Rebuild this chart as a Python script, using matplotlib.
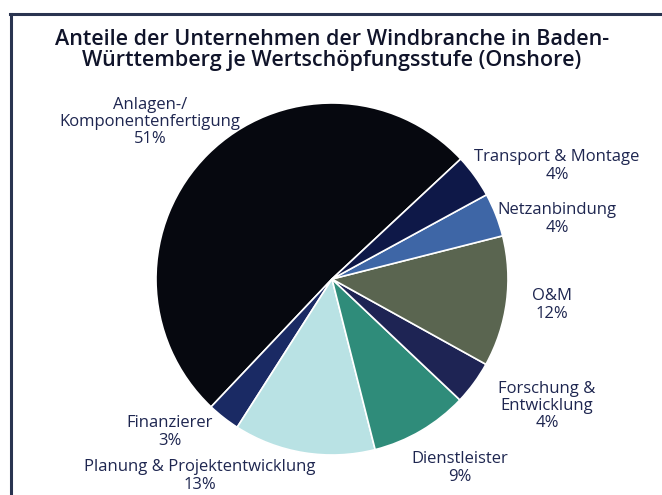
import matplotlib
matplotlib.use("Agg")
import matplotlib.pyplot as plt
from matplotlib.lines import Line2D

title = "Anteile der Unternehmen der Windbranche in Baden-\nWürttemberg je Wertschöpfungsstufe (Onshore)"
categories = ["Anlagen-/\nKomponentenfertigung", "Finanzierer", "Planung & Projektentwicklung",
              "Dienstleister", "Forschung &\nEntwicklung", "O&M", "Netzanbindung", "Transport & Montage"]
values = [51, 3, 13, 9, 4, 12, 4, 4]
colors = ["#06080f", "#1a2a64", "#b9e2e4", "#2f8c7a", "#1e2454", "#5a6550", "#3e66a6", "#0e1848"]
label_pos = [(150, 122), (170, 432), (200, 476), (460, 468), (547, 406), (552, 305), (557, 219), (557, 166)]

W, H = 662, 495
fig = plt.figure(figsize=(W / 100, H / 100), dpi=100)
ax = fig.add_axes([0, 0, 1, 1])
textc = "#1e2650"

ax.pie(values, colors=colors, startangle=43, counterclock=True,
       center=(332, H - 279), radius=176,
       wedgeprops=dict(edgecolor="white", linewidth=1.2))
ax.set_xlim(0, W)
ax.set_ylim(0, H)
ax.set_aspect("equal")
ax.axis("off")

for cat, v, (x, y) in zip(categories, values, label_pos):
    ax.text(x, H - y, f"{cat}\n{v}%", ha="center", va="center", fontsize=12,
            color=textc, family="Open Sans", linespacing=1.1)

ax.text(332, H - 50, title, ha="center", va="center", fontsize=15.5, fontweight="semibold",
        color="#10142a", family="Open Sans", linespacing=1.05)

ax.add_line(Line2D([11, 11], [0, H - 14], color="#2a3450", lw=2.2))
ax.add_line(Line2D([10, W], [H - 14, H - 14], color="#2a3450", lw=2.2))

fig.savefig("out.png", dpi=100)
